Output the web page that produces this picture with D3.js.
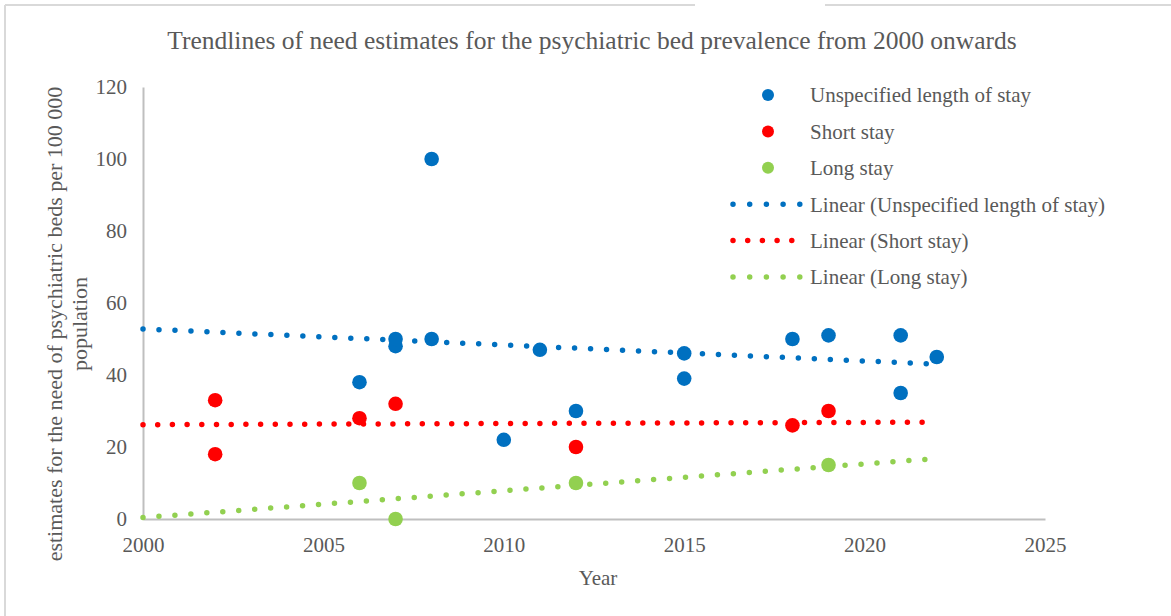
<!DOCTYPE html>
<html>
<head>
<meta charset="utf-8">
<script src="https://cdn.jsdelivr.net/npm/d3@7"></script>
<style>
    body { margin: 0; background: #fff; }
    text { font-family: "Times New Roman", "Liberation Serif", serif; fill: #595959; }
</style>
</head>
<body>
<div id="chart"></div>
<script>
// data
const unspecYears = [2006, 2007, 2007, 2008, 2008, 2010, 2011, 2012, 2015, 2015, 2018, 2019, 2021, 2021, 2022];
const unspecValues = [38, 48, 50, 100, 50, 22, 47, 30, 46, 39, 50, 51, 51, 35, 45];
const shortYears = [2002, 2002, 2006, 2007, 2012, 2018, 2019];
const shortValues = [33, 18, 28, 32, 20, 26, 30];
const longYears = [2006, 2007, 2012, 2019];
const longValues = [10, 0, 10, 15];

// linear trendlines, start and end (year, value)
const trendYears = [2000, 2022];
const unspecTrend = [52.8, 43.0];
const shortTrend = [26.2, 26.9];
const longTrend = [0.4, 16.8];

const xTicks = [2000, 2005, 2010, 2015, 2020, 2025];
const yTicks = [0, 20, 40, 60, 80, 100, 120];

const seriesNames = ['Unspecified length of stay', 'Short stay', 'Long stay'];
const colors = ['#0070C0', '#FF0000', '#92D050'];

class Chart {

    init() {
        let width = 1171,
            height = 616;

        this.svg = d3.select('#chart').append('svg')
            .attr('width', width)
            .attr('height', height);

        // frame (top and left edges only are visible)
        this.svg.append('line').attr('x1', 5).attr('x2', 695).attr('y1', 5).attr('y2', 5)
            .attr('stroke', '#d9d9d9').attr('stroke-width', 2);
        this.svg.append('line').attr('x1', 825).attr('x2', 1171).attr('y1', 5).attr('y2', 5)
            .attr('stroke', '#d9d9d9').attr('stroke-width', 2);
        this.svg.append('line').attr('x1', 5).attr('x2', 5).attr('y1', 5).attr('y2', 616)
            .attr('stroke', '#d9d9d9').attr('stroke-width', 2);

        this.x = d3.scaleLinear().domain([2000, 2025]).range([143, 1045]);
        this.y = d3.scaleLinear().domain([0, 120]).range([519, 87]);

        this.drawAxes();

        this.drawTrend(unspecTrend, colors[0], 16);
        this.drawTrend(shortTrend, colors[1], 14.7);
        this.drawTrend(longTrend, colors[2], 16);

        this.drawPoints(unspecYears, unspecValues, colors[0]);
        this.drawPoints(shortYears, shortValues, colors[1]);
        this.drawPoints(longYears, longValues, colors[2]);

        this.drawLegend();

        this.svg.append('text')
            .attr('x', 592).attr('y', 49)
            .attr('text-anchor', 'middle')
            .style('font-size', '25.5px')
            .text('Trendlines of need estimates for the psychiatric bed prevalence from 2000 onwards');

        this.svg.append('text')
            .attr('x', 598).attr('y', 585)
            .attr('text-anchor', 'middle')
            .style('font-size', '21px')
            .text('Year');

        let yTitle = this.svg.append('text')
            .attr('transform', 'translate(62,324) rotate(-90)')
            .attr('text-anchor', 'middle')
            .style('font-size', '22px');
        yTitle.append('tspan').attr('x', 0).attr('y', 0)
            .text('estimates for the need of psychiatric beds per 100 000');
        yTitle.append('tspan').attr('x', 0).attr('y', 25)
            .text('population');
    }

    drawAxes() {
        let xAxis = d3.axisBottom(this.x).tickValues(xTicks).tickFormat(d3.format('d')).tickSize(0).tickPadding(18);
        let gx = this.svg.append('g').attr('transform', 'translate(0,' + this.y(0) + ')').call(xAxis);
        gx.select('.domain').attr('stroke', '#bfbfbf').attr('stroke-width', 2);
        gx.selectAll('text').style('font-size', '21px').style('fill', '#595959');

        let yAxis = d3.axisLeft(this.y).tickValues(yTicks).tickSize(0).tickPadding(16);
        let gy = this.svg.append('g').attr('transform', 'translate(' + this.x(2000) + ',0)').call(yAxis);
        gy.select('.domain').attr('stroke', '#bfbfbf').attr('stroke-width', 2);
        gy.selectAll('text').style('font-size', '21px').style('fill', '#595959');
    }

    drawTrend(values, color, gap) {
        let line = d3.line()
            .x((d, i) => this.x(trendYears[i]))
            .y(d => this.y(d));
        this.svg.append('path')
            .attr('d', line(values))
            .attr('fill', 'none')
            .attr('stroke', color)
            .attr('stroke-width', 5.5)
            .attr('stroke-linecap', 'round')
            .attr('stroke-dasharray', '0 ' + gap);
    }

    drawPoints(years, values, color) {
        this.svg.append('g').selectAll('circle')
            .data(values)
            .enter().append('circle')
            .attr('cx', (d, i) => this.x(years[i]))
            .attr('cy', d => this.y(d))
            .attr('r', 7.3)
            .attr('fill', color);
    }

    drawLegend() {
        let rowY = d3.scalePoint().domain(d3.range(6)).range([95, 277]);
        let g = this.svg.append('g');
        let labels = seriesNames.concat(seriesNames.map(n => 'Linear (' + n + ')'));

        labels.forEach((label, i) => {
            let color = colors[i % 3];
            if (i < 3) {
                g.append('circle')
                    .attr('cx', 768).attr('cy', rowY(i))
                    .attr('r', 6).attr('fill', color);
            } else {
                g.append('line')
                    .attr('x1', 733).attr('x2', 800)
                    .attr('y1', rowY(i)).attr('y2', rowY(i))
                    .attr('stroke', color)
                    .attr('stroke-width', 5.5)
                    .attr('stroke-linecap', 'round')
                    .attr('stroke-dasharray', i === 4 ? '0 14.7' : '0 16.7');
            }
            g.append('text')
                .attr('x', 810).attr('y', rowY(i))
                .attr('dy', '0.35em')
                .style('font-size', '21px')
                .text(label);
        });
    }
}

window.chart = new Chart();
window.chart.init();
</script>
</body>
</html>
